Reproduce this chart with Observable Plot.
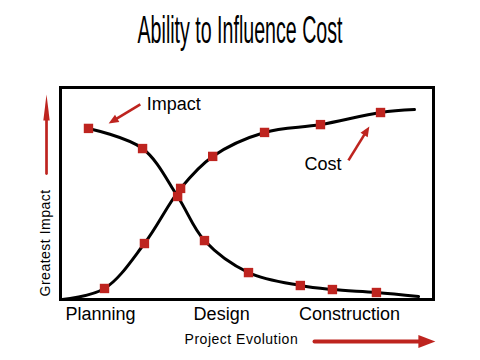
<!DOCTYPE html>
<html>
<head>
<meta charset="utf-8">
<script src="https://cdn.jsdelivr.net/npm/d3@7"></script>
<script src="https://cdn.jsdelivr.net/npm/@observablehq/plot@0.6"></script>
<style>
  html, body { margin: 0; padding: 0; background: #fff; }
  #wrap { width: 480px; }
  svg { display: block; }
</style>
</head>
<body>
<div id="wrap"><div id="title"></div><div id="chart"></div></div>
<script>
// ---- data (x: project evolution 0..100, y: relative level 0..100) ----
const titleText = "Ability to Influence Cost";
const impactX = [7.5, 22.0, 31.4, 38.6, 50.4, 64.3, 72.9, 84.7, 96.0];
const impactY = [80.7, 71.2, 48.6, 27.8, 12.7, 6.6, 4.7, 3.3, 1.4];
const impactMarked = [1, 1, 1, 1, 1, 1, 1, 1, 0];
const costX = [0.5, 11.8, 22.5, 32.2, 40.8, 54.7, 69.7, 85.8, 94.9];
const costY = [0, 5.2, 26.4, 52.4, 67.5, 78.8, 82.5, 88.2, 89.6];
const costMarked = [0, 1, 1, 1, 1, 1, 1, 1, 0];
const phases = ["Planning", "Design", "Construction"];
const phaseX = [10.7, 43.2, 77.5];
const seriesLabels = ["Impact", "Cost"];
const labelX = [23.1, 65.4];
const labelY = [89.2, 61.3];
const pointerX1 = [21.4, 77.2];
const pointerY1 = [92.0, 65.6];
const pointerX2 = [12.9, 82.8];
const pointerY2 = [83.0, 81.6];
const yAxisTitle = "Greatest Impact";
const xAxisTitle = "Project Evolution";
// axis arrows (data units)
const yArrowX = -3.75, yArrowFrom = 59.4, yArrowTo = 84.4, yArrowTip = 96.7;
const xArrowY = -19.8, xArrowFrom = 68.1, xArrowTo = 96.5, xArrowTip = 100.5;

const RED = "#be241f";
const FONT = "'Liberation Sans', Arial, sans-serif";
const W = 480, H = 300, mT = 27, mB = 61, mL = 60, mR = 47;
const kx = (W - mL - mR) / 100, ky = (H - mT - mB) / 100; // px per data unit

// ---- tables ----
const impact = impactX.map((x, i) => ({x, y: impactY[i], m: impactMarked[i]}));
const cost = costX.map((x, i) => ({x, y: costY[i], m: costMarked[i]}));
const labels = seriesLabels.map((t, i) => {
  const dxp = (pointerX2[i] - pointerX1[i]) * kx, dyp = -(pointerY2[i] - pointerY1[i]) * ky;
  const len = Math.hypot(dxp, dyp), back = 8 / len;
  return {t, x: labelX[i], y: labelY[i], x1: pointerX1[i], y1: pointerY1[i], x2: pointerX2[i], y2: pointerY2[i],
    sx: pointerX2[i] - (pointerX2[i] - pointerX1[i]) * back,
    sy: pointerY2[i] - (pointerY2[i] - pointerY1[i]) * back,
    angle: Math.atan2(dxp, -dyp) * 180 / Math.PI};
});

// custom filled arrowheads (tip at origin, pointing up before rotation)
function head(len, half) {
  return {draw(ctx) { ctx.moveTo(0, 0); ctx.lineTo(half, len); ctx.lineTo(-half, len); ctx.closePath(); }};
}
const upHead = head(26, 3.2);
const rightHead = head(17, 6.5);
const smallHead = head(10, 4.2);

// ---- title ----
const tsvg = d3.select("#title").append("svg").attr("width", 480).attr("height", 60);
const tg = tsvg.append("g");
const tt = tg.append("text")
  .attr("x", 0).attr("y", 0)
  .attr("text-anchor", "middle")
  .attr("font-family", "'Liberation Sans', Arial, sans-serif")
  .attr("font-size", 39)
  .attr("fill", "#000")
  .text(titleText);
const natural = tt.node().getComputedTextLength() || 420;
tg.attr("transform", `translate(240,43) scale(${205 / natural},1)`);

// ---- chart ----
const chart = Plot.plot({
  width: W,
  height: H,
  marginTop: mT,
  marginBottom: mB,
  marginLeft: mL,
  marginRight: mR,
  style: {fontFamily: FONT, background: "#fff", color: "#000", overflow: "visible"},
  x: {domain: [0, 100]},
  y: {domain: [0, 100], axis: null},
  marks: [
    Plot.frame({stroke: "#000", strokeWidth: 3}),
    Plot.axisX({ticks: phaseX, tickFormat: (d, i) => phases[i], tickSize: 0, tickPadding: 8,
      fontSize: 18, fill: "#000"}),
    Plot.line(impact, {x: "x", y: "y", curve: "catmull-rom", stroke: "#000", strokeWidth: 3}),
    Plot.line(cost, {x: "x", y: "y", curve: "catmull-rom", stroke: "#000", strokeWidth: 3}),
    Plot.dot(impact.filter(d => d.m), {x: "x", y: "y", symbol: "square", r: 5.3, fill: RED}),
    Plot.dot(cost.filter(d => d.m), {x: "x", y: "y", symbol: "square", r: 5.3, fill: RED}),
    Plot.text(labels, {x: "x", y: "y", text: "t", textAnchor: "start", lineAnchor: "bottom",
      fontSize: 18, fill: "#000"}),
    Plot.link(labels, {x1: "x1", y1: "y1", x2: "sx", y2: "sy", stroke: RED, strokeWidth: 2.6}),
    Plot.dot(labels, {x: "x2", y: "y2", rotate: "angle", symbol: smallHead, r: 5, fill: RED, stroke: "none"}),
    // y axis title and arrow
    Plot.text([yAxisTitle], {x: -4.0, y: 26.7, text: d => d, rotate: -90, fontSize: 14,
      textAnchor: "middle", lineAnchor: "middle", fill: "#000"}),
    Plot.line([{x: yArrowX, y: yArrowFrom}, {x: yArrowX, y: yArrowTo}], {x: "x", y: "y",
      stroke: RED, strokeWidth: 2.7}),
    Plot.dot([{x: yArrowX, y: yArrowTip}], {x: "x", y: "y", symbol: upHead, r: 5, fill: RED, stroke: "none"}),
    // x axis title and arrow
    Plot.text([xAxisTitle], {x: 48.5, y: xArrowY + 0.9, text: d => d, fontSize: 14,
      textAnchor: "middle", lineAnchor: "middle", fill: "#000"}),
    Plot.line([{x: xArrowFrom, y: xArrowY}, {x: xArrowTo, y: xArrowY}], {x: "x", y: "y",
      stroke: RED, strokeWidth: 4}),
    Plot.dot([{x: xArrowTip, y: xArrowY}], {x: "x", y: "y", symbol: rightHead, r: 5, rotate: 90,
      fill: RED, stroke: "none"})
  ]
});
document.getElementById("chart").appendChild(chart);
d3.select(chart).selectAll("text").filter(function () {
  const t = this.textContent; return t === xAxisTitle || t === yAxisTitle;
}).style("letter-spacing", "0.5px");
</script>
</body>
</html>
